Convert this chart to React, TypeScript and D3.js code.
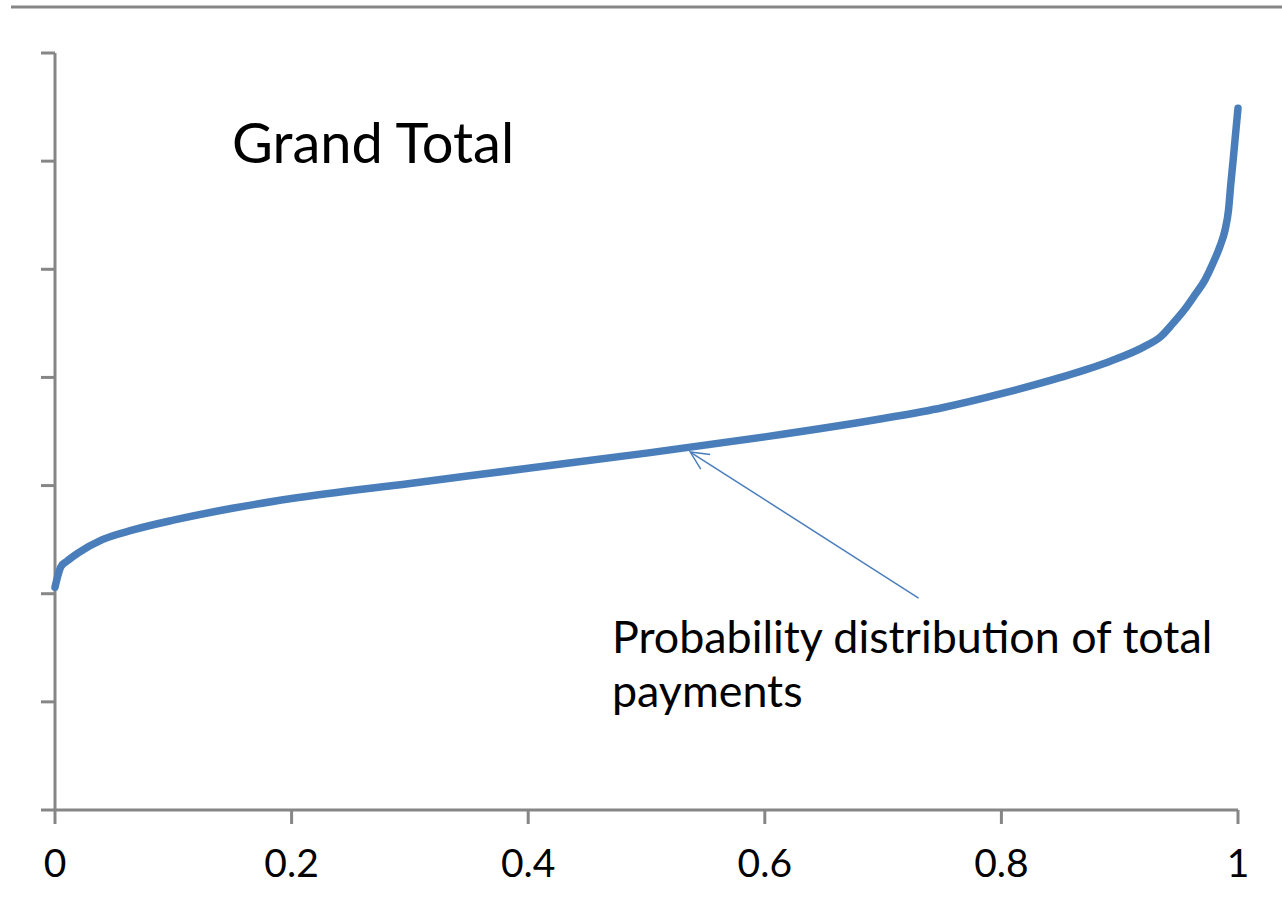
import { useRef, useEffect } from "react";
import * as d3 from "d3";

// cumulative probability (x) vs. total payments (arbitrary units)
const probs = [0, 0.002, 0.005, 0.01, 0.02, 0.04, 0.066, 0.1, 0.15, 0.2, 0.3, 0.4, 0.5, 0.6, 0.7, 0.75, 0.8, 0.85, 0.892, 0.92, 0.935, 0.945, 0.955, 0.964, 0.972, 0.979, 0.985, 0.989, 0.992, 0.994, 0.996, 0.9975, 1];
const payments = [2.06, 2.15, 2.25, 2.3, 2.38, 2.5, 2.59, 2.68, 2.79, 2.88, 3.02, 3.16, 3.3, 3.45, 3.62, 3.72, 3.85, 4.0, 4.15, 4.28, 4.38, 4.5, 4.63, 4.77, 4.9, 5.06, 5.22, 5.36, 5.55, 5.8, 6.02, 6.2, 6.49];
const xTicks = [0, 0.2, 0.4, 0.6, 0.8, 1];
const yTicks = [0, 1, 2, 3, 4, 5, 6, 7];

const title = "Grand Total";
const noteLines = ["Probability distribution of total", "payments"];
// where the arrow points (on the curve) and where its tail sits
const arrowTip = { x: 0.537, y: 3.31 };
const arrowTail = { x: 0.73, y: 1.96 };

export default function App() {
  const svgRef = useRef<SVGSVGElement>(null);

  useEffect(() => {
    if (!svgRef.current) return;
    const width = 1282;
    const height = 914;
    const font = "Lato, 'Noto Sans', sans-serif";
    const axisColor = "#868686";
    const lineColor = "#4a7ebb";

    const svg = d3.select(svgRef.current);
    svg.selectAll("*").remove();
    svg.attr("width", width).attr("height", height);

    const x = d3.scaleLinear().domain([0, 1]).range([55, 1238]);
    const y = d3.scaleLinear().domain([0, 7]).range([810, 53]);

    // top rule
    svg.append("line")
      .attr("x1", 11).attr("x2", width)
      .attr("y1", 7).attr("y2", 7)
      .attr("stroke", axisColor).attr("stroke-width", 3);

    // y axis + ticks (no labels)
    svg.append("line")
      .attr("x1", x(0)).attr("x2", x(0))
      .attr("y1", y(7)).attr("y2", y(0))
      .attr("stroke", axisColor).attr("stroke-width", 3);
    svg.selectAll("line.ytick")
      .data(yTicks)
      .join("line")
      .attr("class", "ytick")
      .attr("x1", x(0) - 14).attr("x2", x(0))
      .attr("y1", (d) => y(d)).attr("y2", (d) => y(d))
      .attr("stroke", axisColor).attr("stroke-width", 3);

    // x axis + ticks
    svg.append("line")
      .attr("x1", x(0)).attr("x2", x(1))
      .attr("y1", y(0)).attr("y2", y(0))
      .attr("stroke", axisColor).attr("stroke-width", 3);
    svg.selectAll("line.xtick")
      .data(xTicks)
      .join("line")
      .attr("class", "xtick")
      .attr("x1", (d) => x(d)).attr("x2", (d) => x(d))
      .attr("y1", y(0)).attr("y2", y(0) + 14)
      .attr("stroke", axisColor).attr("stroke-width", 3);
    svg.selectAll("text.xlabel")
      .data(xTicks)
      .join("text")
      .attr("class", "xlabel")
      .attr("x", (d) => x(d))
      .attr("y", 877)
      .attr("text-anchor", "middle")
      .attr("font-family", font)
      .attr("font-size", 39)
      .attr("fill", "#000")
      .text((d) => String(d));

    // curve
    const data = probs.map((p, i) => ({ p, v: payments[i] }));
    const line = d3.line<{ p: number; v: number }>()
      .x((d) => x(d.p))
      .y((d) => y(d.v))
      .curve(d3.curveMonotoneX);
    svg.append("path")
      .datum(data)
      .attr("d", line)
      .attr("fill", "none")
      .attr("stroke", lineColor)
      .attr("stroke-width", 7.5)
      .attr("stroke-linecap", "round")
      .attr("stroke-linejoin", "round");

    // title
    svg.append("text")
      .attr("x", 232).attr("y", 163)
      .attr("font-family", font)
      .attr("font-size", 56)
      .attr("fill", "#000")
      .text(title);

    // annotation arrow
    const tx = x(arrowTip.x), ty = y(arrowTip.y);
    const sx = x(arrowTail.x), sy = y(arrowTail.y);
    const ang = Math.atan2(sy - ty, sx - tx);
    const head = 20;
    const spread = 0.45;
    svg.append("line")
      .attr("x1", sx).attr("y1", sy).attr("x2", tx).attr("y2", ty)
      .attr("stroke", lineColor).attr("stroke-width", 1.5);
    svg.append("path")
      .attr("d", `M${tx + head * Math.cos(ang - spread)},${ty + head * Math.sin(ang - spread)} L${tx},${ty} L${tx + head * Math.cos(ang + spread)},${ty + head * Math.sin(ang + spread)}`)
      .attr("fill", "none")
      .attr("stroke", lineColor).attr("stroke-width", 1.5);

    // annotation text
    svg.selectAll("text.note")
      .data(noteLines)
      .join("text")
      .attr("class", "note")
      .attr("x", 612)
      .attr("y", (_, i) => 653 + i * 54)
      .attr("font-family", font)
      .attr("font-size", 44.8)
      .attr("fill", "#000")
      .text((d) => d);
  }, []);

  return (
    <div style={{ position: "absolute", left: 0, top: 0, background: "#fff" }}>
      <svg ref={svgRef} style={{ display: "block" }} />
    </div>
  );
}
